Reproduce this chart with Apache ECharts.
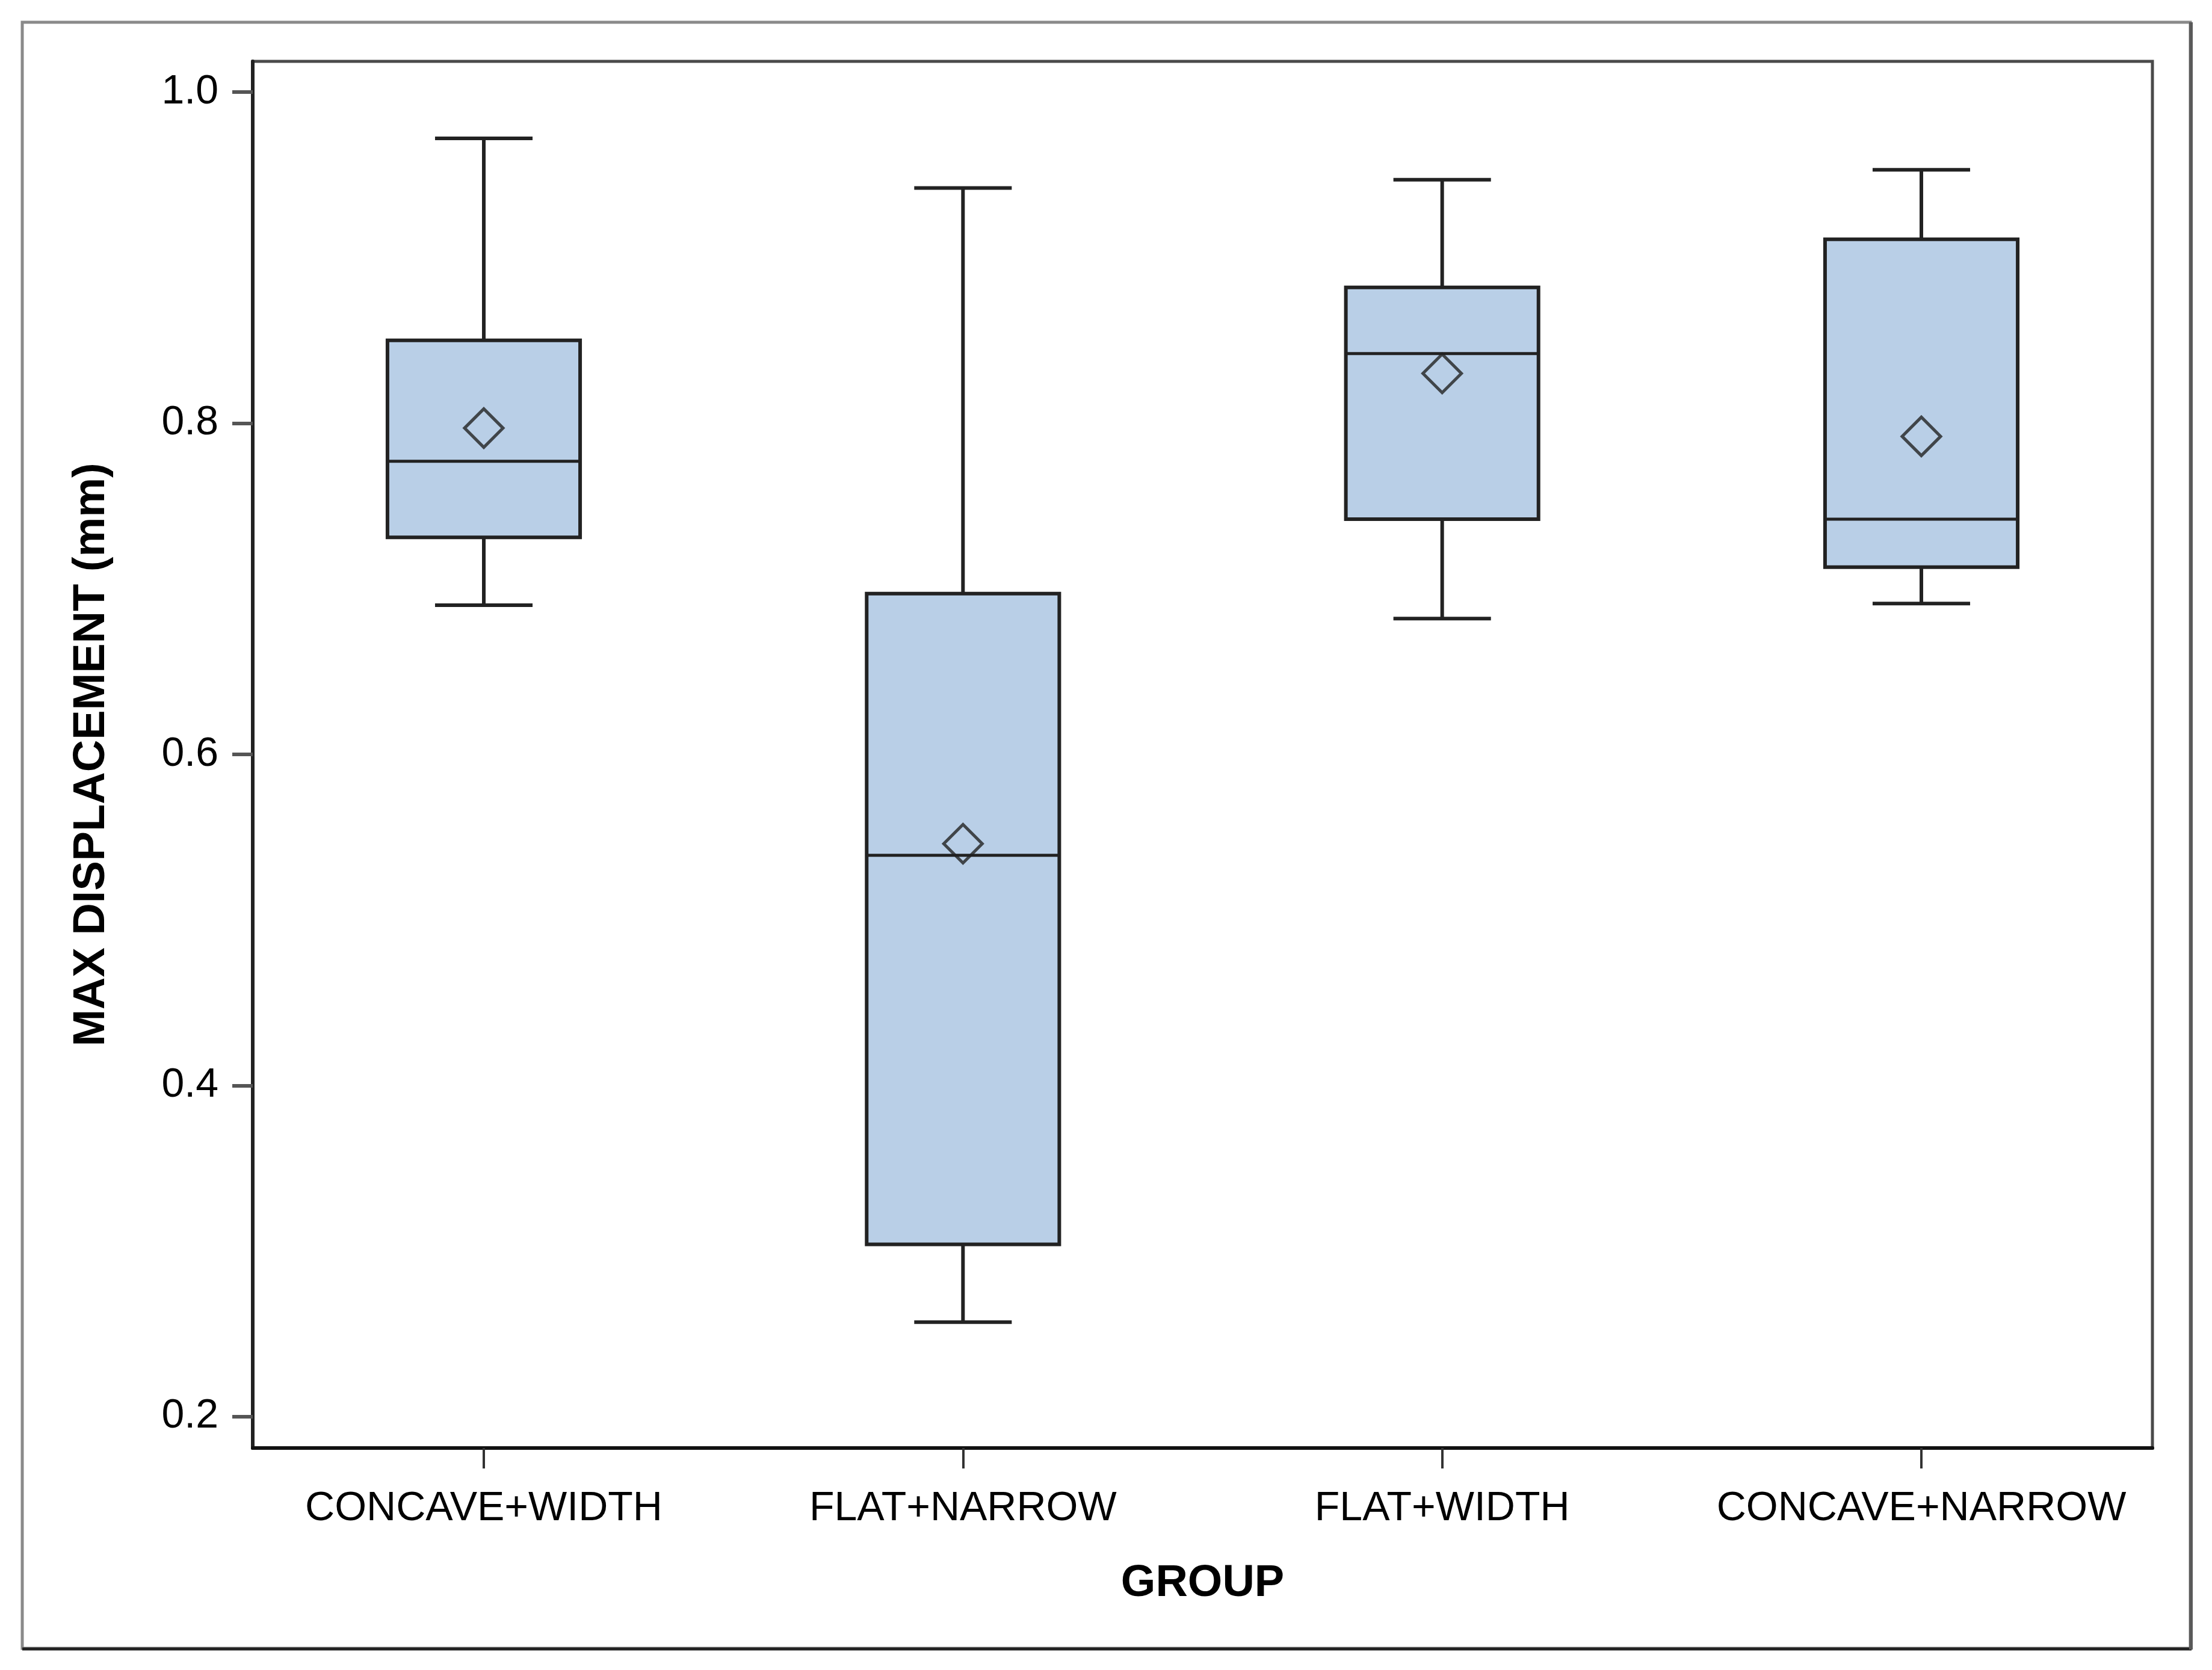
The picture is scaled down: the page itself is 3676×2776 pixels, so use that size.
<!DOCTYPE html>
<html>
<head>
<meta charset="utf-8">
<script src="https://cdn.jsdelivr.net/npm/echarts@6/dist/echarts.min.js"></script>
<style>
html,body{margin:0;padding:0;background:#fff;}
#chart{width:3676px;height:2776px;}
</style>
</head>
<body>
<div id="chart"></div>
<script>
const categories = ['CONCAVE+WIDTH', 'FLAT+NARROW', 'FLAT+WIDTH', 'CONCAVE+NARROW'];
const whiskerLow  = [0.690, 0.257, 0.682, 0.691];
const q1          = [0.731, 0.304, 0.742, 0.713];
const median      = [0.777, 0.539, 0.842, 0.742];
const q3          = [0.850, 0.697, 0.882, 0.911];
const whiskerHigh = [0.972, 0.942, 0.947, 0.953];
const means       = [0.797, 0.546, 0.830, 0.792];
const yTicks      = [0.2, 0.4, 0.6, 0.8, 1.0];
const xTicks      = categories.map((c, i) => i);

const boxData = categories.map((c, i) => [i, whiskerLow[i], q1[i], median[i], q3[i], whiskerHigh[i]]);
const meanData = categories.map((c, i) => [i, means[i]]);

const chart = echarts.init(document.getElementById('chart'), null, {renderer: 'canvas'});
const FONT = '"Liberation Sans", Arial, sans-serif';
const dark = '#222222';

function renderBox(params, api) {
  const x = api.value(0);
  const pLow = api.coord([x, api.value(1)]);
  const pQ1 = api.coord([x, api.value(2)]);
  const pMed = api.coord([x, api.value(3)]);
  const pQ3 = api.coord([x, api.value(4)]);
  const pHigh = api.coord([x, api.value(5)]);
  const unit = api.size([1, 0])[0];
  const bw = unit * 0.402;
  const cw = unit * 0.2035;
  const cx = pMed[0];
  const lineStyle = {stroke: dark, lineWidth: 6};
  return {
    type: 'group',
    children: [
      {type: 'line', shape: {x1: cx, y1: pHigh[1], x2: cx, y2: pQ3[1]}, style: lineStyle},
      {type: 'line', shape: {x1: cx, y1: pQ1[1], x2: cx, y2: pLow[1]}, style: lineStyle},
      {type: 'line', shape: {x1: cx - cw / 2, y1: pHigh[1], x2: cx + cw / 2, y2: pHigh[1]}, style: lineStyle},
      {type: 'line', shape: {x1: cx - cw / 2, y1: pLow[1], x2: cx + cw / 2, y2: pLow[1]}, style: lineStyle},
      {type: 'rect', shape: {x: cx - bw / 2, y: pQ3[1], width: bw, height: pQ1[1] - pQ3[1]},
        style: {fill: '#B9CFE7', stroke: dark, lineWidth: 6}},
      {type: 'line', shape: {x1: cx - bw / 2, y1: pMed[1], x2: cx + bw / 2, y2: pMed[1]},
        style: {stroke: dark, lineWidth: 5}}
    ]
  };
}

const option = {
  backgroundColor: '#ffffff',
  animation: false,
  grid: {left: 420, top: 102, right: 99, bottom: 369, show: true, borderColor: '#4a4a4a', borderWidth: 5, backgroundColor: '#ffffff'},
  xAxis: {
    type: 'value',
    min: -0.4822,
    max: 3.4822,
    name: 'GROUP',
    nameLocation: 'middle',
    nameGap: 189,
    nameTextStyle: {fontFamily: FONT, fontSize: 74, fontWeight: 'bold', color: '#000'},
    axisLine: {show: true, onZero: false, lineStyle: {color: '#111', width: 6}},
    axisTick: {show: true, length: 34, customValues: xTicks, lineStyle: {color: '#333', width: 4}},
    axisLabel: {fontFamily: FONT, fontSize: 68, color: '#000', margin: 67, customValues: xTicks,
      formatter: v => categories[Math.round(v)] || ''},
    splitLine: {show: false}
  },
  yAxis: {
    type: 'value',
    min: 0.181,
    max: 1.0185,
    name: 'MAX DISPLACEMENT (mm)',
    nameLocation: 'middle',
    nameGap: 230,
    nameTextStyle: {fontFamily: FONT, fontSize: 74, fontWeight: 'bold', color: '#000'},
    axisLine: {show: true, onZero: false, lineStyle: {color: '#222', width: 6}},
    axisTick: {show: true, length: 34, customValues: yTicks, lineStyle: {color: '#555', width: 6}},
    axisLabel: {fontFamily: FONT, fontSize: 68, color: '#000', margin: 57, customValues: yTicks,
      formatter: v => Number(v).toFixed(1)},
    splitLine: {show: false}
  },
  graphic: [
    {type: 'rect', shape: {x: 37, y: 37, width: 3603, height: 2703}, style: {fill: 'none', stroke: '#8a8a8a', lineWidth: 5}, z: 100},
    {type: 'line', shape: {x1: 37, y1: 2741, x2: 3642, y2: 2741}, style: {stroke: '#222', lineWidth: 5}, z: 101},
    {type: 'line', shape: {x1: 3641, y1: 37, x2: 3641, y2: 2742}, style: {stroke: '#5a5a5a', lineWidth: 6}, z: 101}
  ],
  series: [
    {
      type: 'custom',
      renderItem: renderBox,
      data: boxData,
      encode: {x: 0, y: [1, 2, 3, 4, 5]},
      z: 2
    },
    {
      type: 'scatter',
      data: meanData,
      symbol: 'diamond',
      symbolSize: [64, 64],
      itemStyle: {color: 'rgba(0,0,0,0)', borderColor: '#222', borderWidth: 5},
      z: 3
    }
  ]
};
chart.setOption(option);
</script>
</body>
</html>
